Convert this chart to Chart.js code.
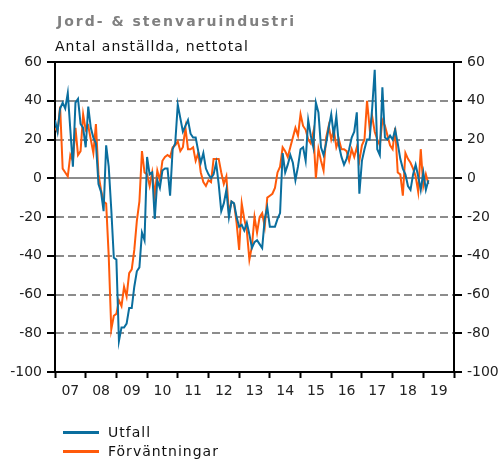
<!DOCTYPE html>
<html lang="sv">
<head>
<meta charset="utf-8">
<title>Jord- &amp; stenvaruindustri</title>
<script src="https://cdn.jsdelivr.net/npm/chart.js@4.4.1/dist/chart.umd.min.js"></script>
<style>
  body { margin: 0; background: #fff; font-family: "DejaVu Sans", Verdana, sans-serif; }
  #wrap { position: relative; width: 503px; height: 460px; }
  #chart { position: absolute; left: 0; top: 0; }
  .title { position: absolute; left: 57px; top: 13px; font-size: 14px; line-height: 16px; font-weight: bold; letter-spacing: 2px; color: #808080; white-space: nowrap; }
  .subtitle { position: absolute; left: 55px; top: 38px; font-size: 14px; line-height: 16px; letter-spacing: 1px; color: #111; white-space: nowrap; }
  #legend { position: absolute; left: 63px; top: 424px; font-size: 14px; letter-spacing: 1px; color: #111; }
  .item { display: flex; align-items: center; height: 16px; margin-bottom: 3px; }
  .swatch { width: 36px; height: 3px; margin-right: 9px; }
</style>
</head>
<body>
<div id="wrap">
  <canvas id="chart" width="503" height="460"></canvas>
  <div class="title">Jord- &amp; stenvaruindustri</div>
  <div class="subtitle">Antal anställda, nettotal</div>
  <div id="legend"></div>
</div>
<script>
// monthly net balances, Jan 2007 onwards
const years = ["07", "08", "09", "10", "11", "12", "13", "14", "15", "16", "17", "18", "19"];

const utfall = [
  30, 24, 36, 39, 36, 44, 25, 6, 39, 41, 28, 26,
  16, 37, 26, 21, 18, -3, -7, -17, 17, 6, -16, -41,
  -42, -84, -77, -77, -75, -67, -67, -56, -48, -46, -28, -32,
  11, 2, 3, -21, -1, -5, 4, 5, 5, -9, 15, 18,
  38, 31, 24, 27, 30, 23, 21, 21, 14, 8, 13, 5,
  2, 0, 2, 8, -3, -17, -13, -6, -20, -12, -13, -20,
  -25, -24, -27, -23, -29, -36, -33, -32, -34, -36, -21, -15,
  -25, -25, -25, -21, -18, 13, 3, 7, 12, 8, -1, 6,
  15, 16, 9, 30, 22, 16, 39, 34, 16, 12, 18, 26,
  33, 22, 32, 17, 11, 7, 10, 15, 21, 24, 34, -8,
  9, 15, 20, 20, 36, 56, 15, 12, 47, 21, 20, 22,
  20, 25, 18, 10, 5, 2, -4, -6, 2, 7, 1, -6,
  3, -6, -1
];

const forvantningar = [
  26, 24, 37, 5, 3, 1, 12, 9, 26, 12, 14, 33,
  25, 27, 20, 13, 28, 2, -6, -12, -13, -40, -78, -71,
  -70, -63, -66, -56, -61, -49, -47, -37, -22, -12, 14, 3,
  2, -4, 3, -9, 4, -1, 9, 11, 12, 11, 16, 17,
  19, 14, 16, 26, 15, 15, 16, 9, 13, 3, -2, -4,
  -1, -2, 10, 10, 10, 3, -3, 1, -18, -12, -13, -23,
  -37, -13, -21, -27, -42, -35, -20, -28, -20, -18, -25, -10,
  -9, -8, -5, 3, 6, 16, 14, 11, 16, 21, 26, 22,
  33, 27, 25, 20, 18, 24, 0, 15, 9, 4, 21, 27,
  20, 25, 16, 20, 15, 15, 14, 9, 15, 11, 16, 9,
  17, 20, 40, 26, 32, 24, 20, 17, 30, 27, 22, 17,
  15, 26, 3, 2, -9, 13, 10, 8, 5, 1, -7, 15,
  -4, 2, -3
];

const yMin = -100;
const yMax = 60;
const months = years.length * 12;

const toPoints = (values) => values.map((v, i) => ({ x: i, y: v }));

Chart.defaults.font.family = "'DejaVu Sans', Verdana, sans-serif";
Chart.defaults.font.size = 14;
Chart.defaults.color = "#222";

// dashed grey grid, solid zero line, black frame at the top
const gridColor = (ctx) => {
  const v = ctx.tick ? ctx.tick.value : null;
  if (v === yMax) return "#000";
  if (v === yMin) return "rgba(0,0,0,0)";
  return "#8c8c8c";
};
const gridDash = (ctx) => {
  const v = ctx.tick ? ctx.tick.value : 0;
  return v === 0 || v === yMax ? [] : [8, 4];
};

const yAxis = (position, width) => ({
  type: "linear",
  position,
  min: yMin,
  max: yMax,
  afterFit(scale) { scale.width = width; },
  ticks: { stepSize: 20, padding: 5, color: "#222" },
  grid: {
    drawOnChartArea: position === "left",
    color: gridColor,
    lineWidth: 2,
    tickLength: 8,
    tickColor: "#000",
    tickWidth: 2,
  },
  border: { color: "#000", width: 2, dash: gridDash },
});

const chart = new Chart(document.getElementById("chart"), {
  type: "line",
  data: {
    datasets: [
      {
        label: "Utfall",
        data: toPoints(utfall),
        borderColor: "#0a6e9e",
        borderWidth: 2,
        pointRadius: 0,
        tension: 0,
      },
      {
        label: "Förväntningar",
        data: toPoints(forvantningar),
        borderColor: "#ff5a0a",
        borderWidth: 2,
        pointRadius: 0,
        tension: 0,
      },
    ],
  },
  options: {
    responsive: false,
    animation: false,
    layout: { padding: { top: 62, left: 0, right: 0, bottom: 0 } },
    plugins: { legend: { display: false }, tooltip: { enabled: false } },
    scales: {
      x: {
        type: "linear",
        min: 0,
        max: months,
        afterFit(scale) { scale.height = 88; },
        ticks: {
          stepSize: 12,
          autoSkip: false,
          maxRotation: 0,
          padding: 5,
          labelOffset: 399 / years.length / 2,
          color: "#222",
          callback: (value) => (value < months ? years[value / 12] : ""),
        },
        grid: {
          drawOnChartArea: false,
          tickLength: 6,
          tickColor: "#000",
          tickWidth: 2,
        },
        border: { color: "#000", width: 2 },
      },
      y: yAxis("left", 55),
      y2: yAxis("right", 49),
    },
  },
});

// legend stacked under the chart
const legend = document.getElementById("legend");
chart.data.datasets.forEach((ds) => {
  const row = document.createElement("div");
  row.className = "item";
  const swatch = document.createElement("span");
  swatch.className = "swatch";
  swatch.style.background = ds.borderColor;
  const text = document.createElement("span");
  text.textContent = ds.label;
  row.appendChild(swatch);
  row.appendChild(text);
  legend.appendChild(row);
});
</script>
</body>
</html>
